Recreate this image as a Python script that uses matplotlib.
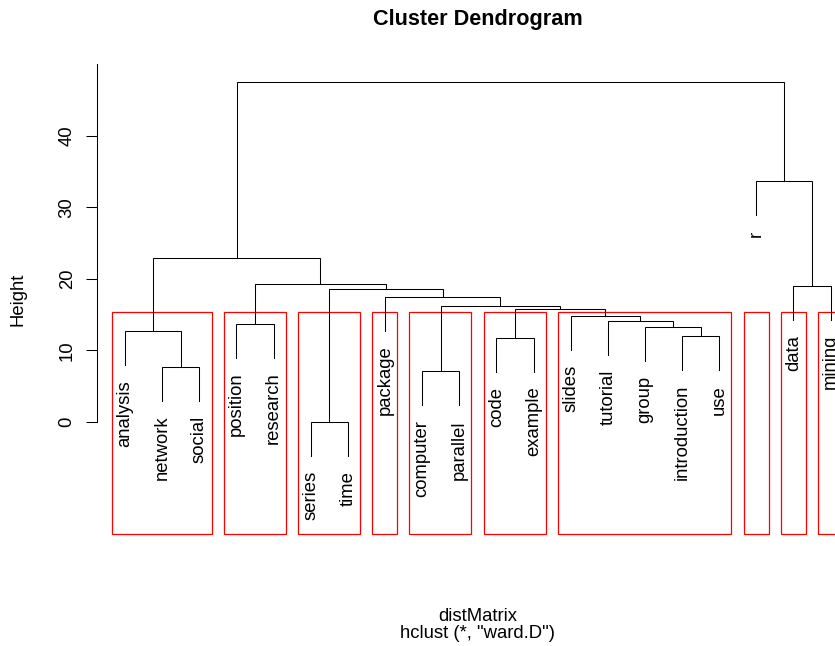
import matplotlib
matplotlib.use("Agg")
import matplotlib.pyplot as plt
from matplotlib.patches import Rectangle

plt.rcParams['font.family'] = ['Liberation Sans', 'DejaVu Sans']

# leaves in dendrogram order
labels = ["analysis", "network", "social", "position", "research",
          "series", "time", "package", "computer", "parallel",
          "code", "example", "slides", "tutorial", "group",
          "introduction", "use", "r", "data", "mining"]

# R style merge table: negative = leaf number, positive = earlier merge row
merges = [(-6, -7), (-9, -10), (-2, -3), (-11, -12), (-16, -17),
          (-1, 3), (-15, 5), (-4, -5), (-14, 7), (-13, 9),
          (4, 10), (2, 11), (-8, 12), (1, 13), (-19, -20),
          (8, 14), (6, 16), (-18, 15), (17, 18)]
heights = [0.0, 7.09, 7.7, 11.75, 11.99,
           12.7, 13.29, 13.7, 14.13, 14.78,
           15.8, 16.18, 17.48, 18.6, 19.0,
           19.2, 22.9, 33.6, 47.5]
k = 10
yticks = [0, 10, 20, 30, 40]

hang = 0.1 * (max(heights) - min(heights))
n = len(labels)

fig = plt.figure(figsize=(8.35, 6.46), dpi=100)
# plot region runs past the right edge of the picture, as in the original
ax = fig.add_axes([96.8 / 835, 1 - 534 / 646, 762 / 835, 469.8 / 646])
ax.set_xlim(0.24, n + 0.76)
ax.set_ylim(-15.7, 50)

xs = []
for i, (a, b) in enumerate(merges):
    h = heights[i]
    pts = []
    for c in (a, b):
        if c < 0:
            pts.append((-c, h - hang))
            ax.annotate(labels[-c - 1], (-c, h - hang), xytext=(0, -10.8),
                        textcoords='offset points', rotation=90,
                        ha='center', va='top', fontsize=13.3,
                        annotation_clip=False)
        else:
            pts.append((xs[c - 1], heights[c - 1]))
    (xa, ya), (xb, yb) = pts
    ax.plot([xa, xa, xb, xb], [ya, h, h, yb], color='black', lw=0.75,
            solid_joinstyle='miter', clip_on=False)
    xs.append((xa + xb) / 2)

# cut into k clusters
def leaves(c):
    if c < 0:
        return [-c]
    a, b = merges[c - 1]
    return leaves(a) + leaves(b)

def node_h(c):
    return heights[c - 1] if c > 0 else -1

groups = [len(merges)]
while len(groups) < k:
    j = max(range(len(groups)), key=lambda t: node_h(groups[t]))
    a, b = merges[groups[j] - 1]
    groups[j:j + 1] = [a, b]

desc = sorted(heights, reverse=True)
top = (desc[k - 2] + desc[k - 1]) / 2
y0 = ax.get_ylim()[0]
for g in groups:
    lv = leaves(g)
    x0 = min(lv) - 0.34
    x1 = max(lv) + 0.33
    ax.add_patch(Rectangle((x0, y0), x1 - x0, top - y0, fill=False,
                           edgecolor='red', lw=0.9, clip_on=False))

for s in ['top', 'right', 'bottom']:
    ax.spines[s].set_visible(False)
ax.spines['left'].set_bounds(0, 50)
ax.spines['left'].set_linewidth(0.75)
ax.set_xticks([])
ax.set_yticks(yticks)
ax.set_yticklabels([str(v) for v in yticks], rotation=90, va='center',
                   fontsize=13.3)
ax.tick_params(axis='y', length=7.7, width=0.75, pad=7.5)

fig.text(18 / 835, 1 - 299 / 646, 'Height', rotation=90, ha='center',
         va='center', fontsize=13.3)
fig.text(477.8 / 835, 1 - 621 / 646, 'distMatrix', ha='center',
         va='baseline', fontsize=13.3)
fig.text(477.8 / 835, 1 - 637.5 / 646, 'hclust (*, "ward.D")', ha='center',
         va='baseline', fontsize=13.3)
fig.text(477.8 / 835, 1 - 25 / 646, 'Cluster Dendrogram', ha='center',
         va='baseline', fontsize=15.6, fontweight='bold')

fig.savefig('out.png', dpi=100)
